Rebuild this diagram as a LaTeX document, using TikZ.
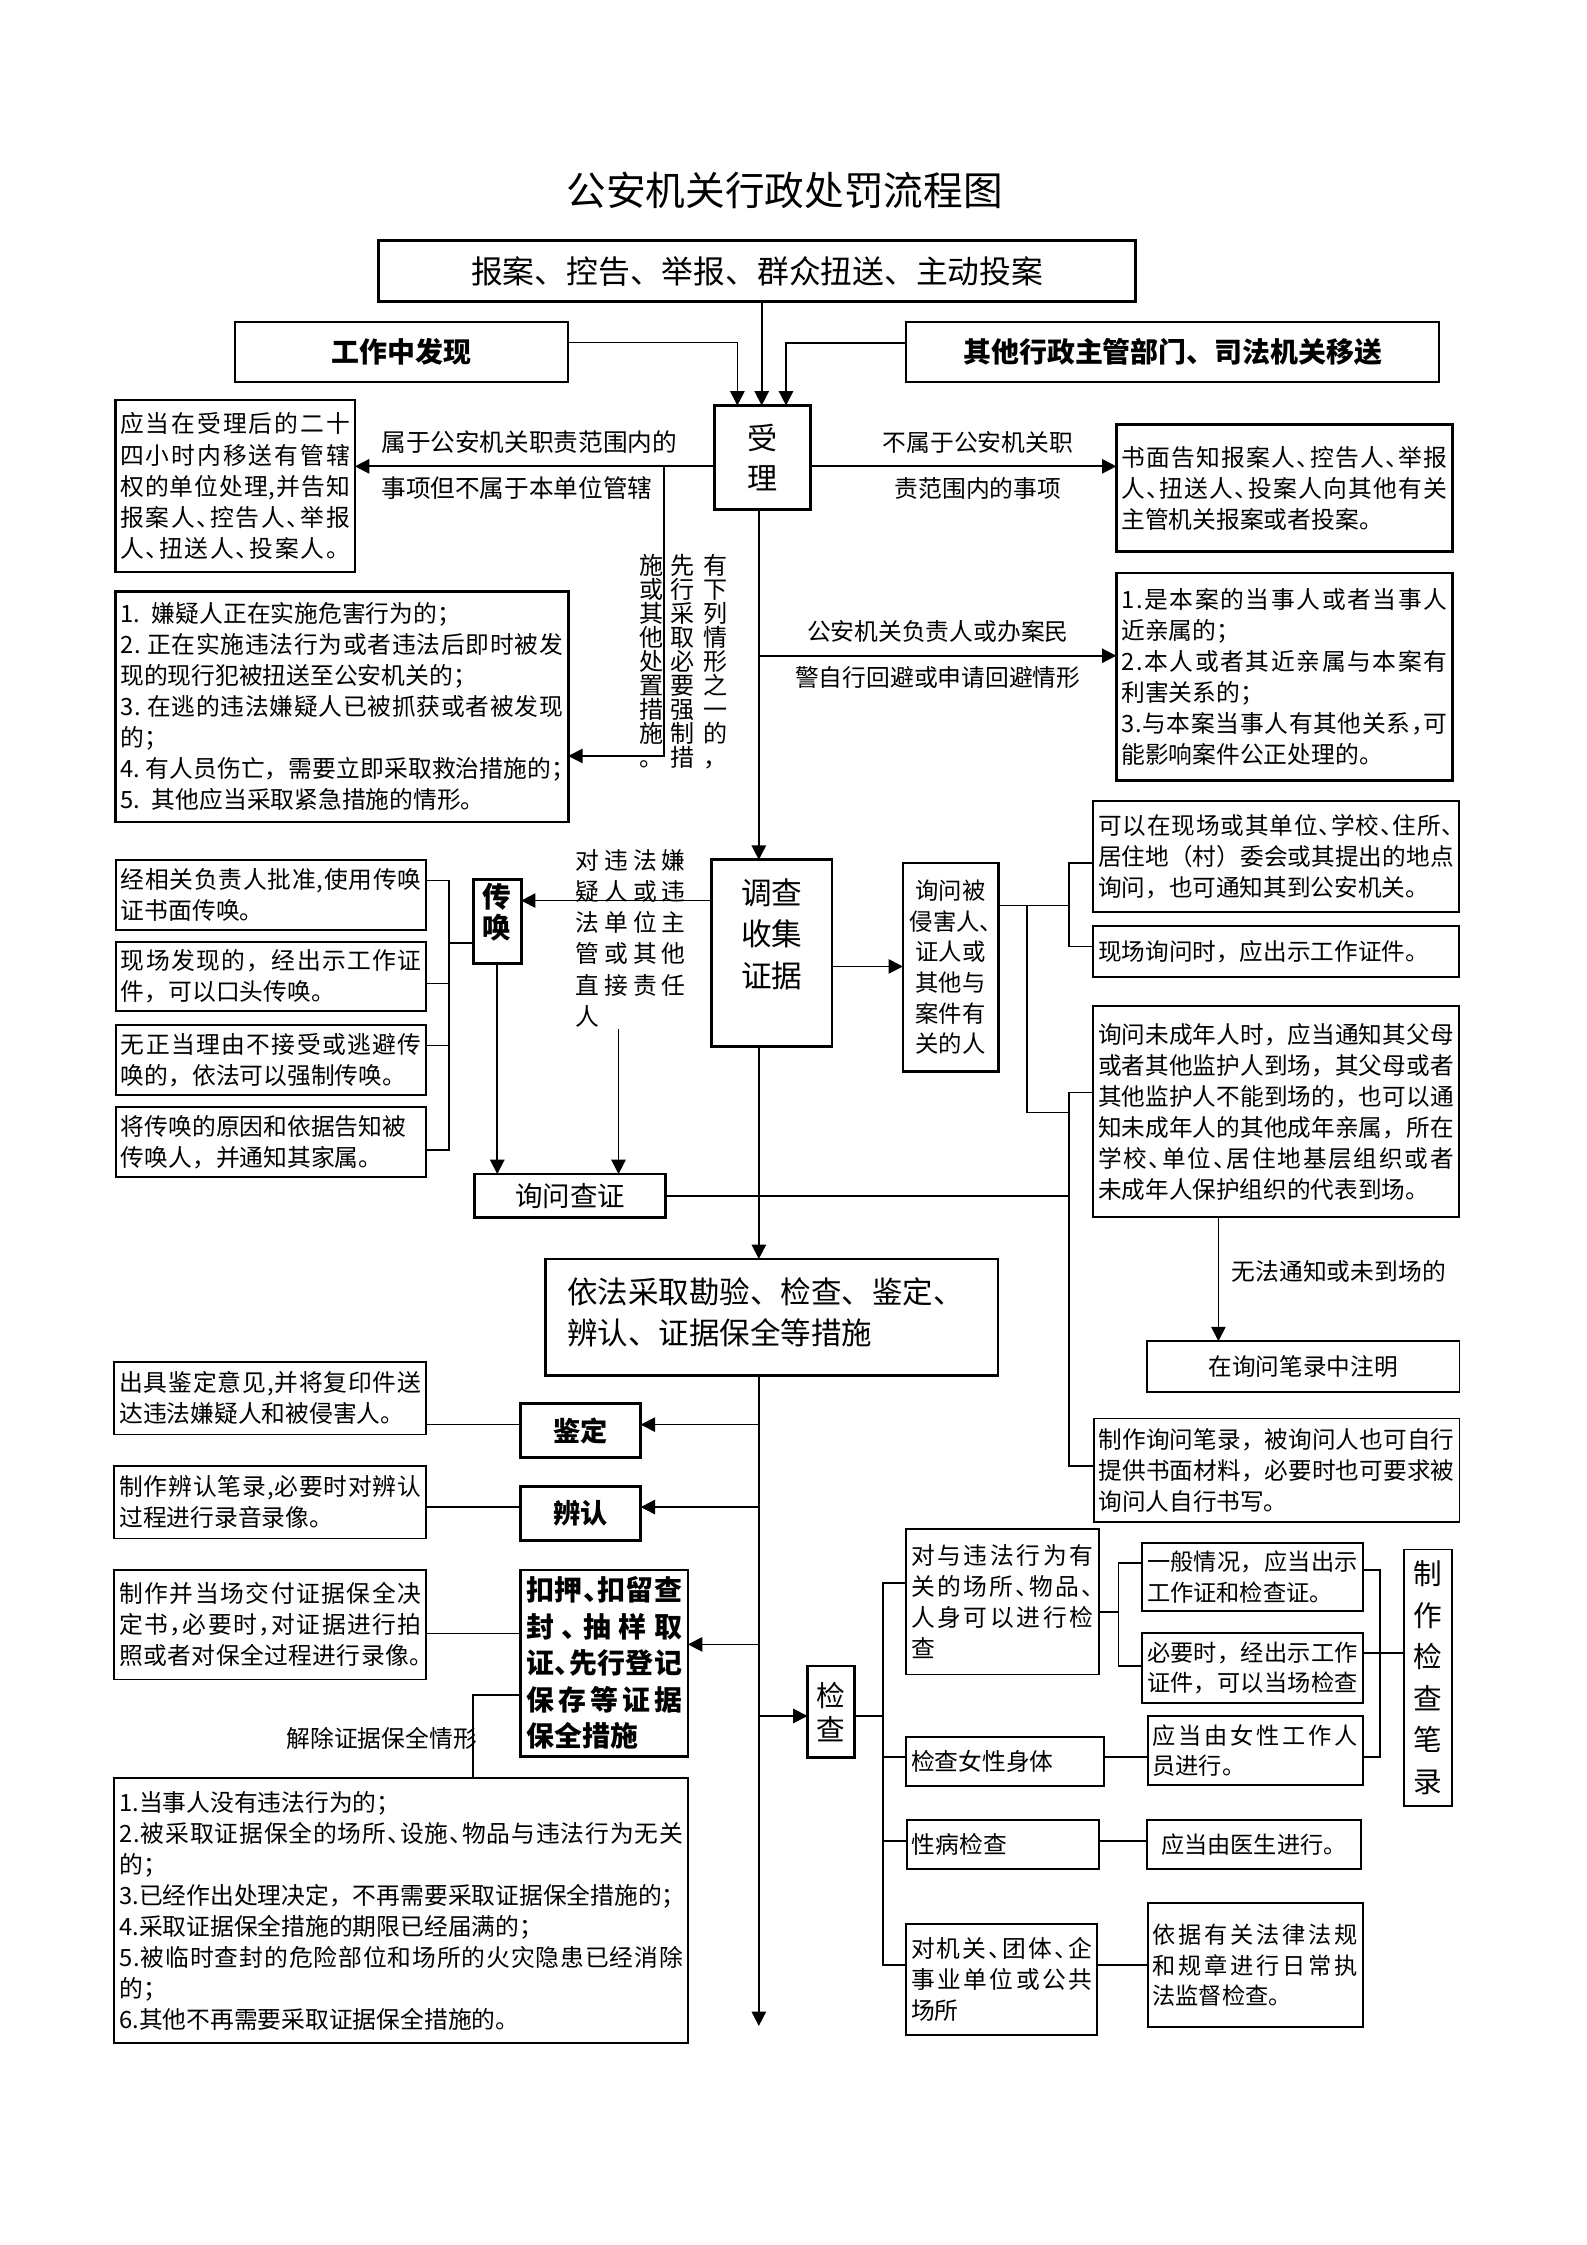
\documentclass[tikz,border=0pt]{standalone}
\usepackage{fontspec}
\setmainfont{Noto Sans CJK SC}
\usetikzlibrary{arrows.meta}
\newcommand\dun{\makebox[0.5em][l]{、}}
\newcommand\hwc{\makebox[0.5em][l]{，}}
\newcommand\hws{\makebox[0.5em][l]{；}}
\newcommand\hwp{\makebox[0.5em][l]{。}}
\newcommand\jsp{\makebox[0.22em]{}}
\def\jlend{JLEND}
\def\jlgobble#1{}
\def\jlloop#1#2{#1\ifx#2\jlend\expandafter\jlgobble\else\hskip0pt plus1fil\relax\expandafter\jlloop\fi#2}
\newcommand\jl[1]{\leavevmode\hbox to\hsize{\jlloop#1\jlend}}
\newcommand\fbody{\fontsize{8.3pt}{10.85pt}\selectfont}
\newcommand\fbodyl{\fontsize{8.25pt}{10.85pt}\selectfont}
\newcommand\fsmall{\fontsize{8.1pt}{10.6pt}\selectfont}
\tikzset{
  bx/.style={draw, line width=0.65pt, inner sep=0pt, outer sep=0pt},
  bxk/.style={draw, line width=0.95pt, inner sep=0pt, outer sep=0pt},
  sz/.style 2 args={minimum width=#1*0.5pt, minimum height=#2*0.5pt},
  tb/.style={align=left, font=\fbody},
  ln/.style={line width=0.6pt},
  arr/.style={line width=0.6pt, -{Triangle[length=5pt,width=5pt]}},
  lbl/.style={inner sep=0pt, font=\fbody},
  vcol/.style={inner sep=0pt, align=center, anchor=north, font={\fontsize{8.4pt}{8.375pt}\selectfont\lineskiplimit=-100pt}},
}
\begin{document}
\begin{tikzpicture}[x=0.5pt,y=-0.5pt]
\fill[white] (0,0) rectangle (1108,1568);
\useasboundingbox (0,0) rectangle (1108,1568);

% title
\node[inner sep=0pt, font={\fontsize{13.85pt}{16pt}\selectfont}] (title) at (548,133) {公安机关行政处罚流程图};

% top boxes
\node[bxk, sz={528.6}{42.6}, font={\fontsize{11.1pt}{14pt}\selectfont}] (A) at (528.9,189.3) {报案、控告、举报、群众扭送、主动投案};
\node[bx, sz={232.7}{42.3}, font={\fontsize{9.75pt}{12pt}\selectfont\bfseries}] (B) at (280.55,245.75) {工作中发现};
\node[bx, sz={372.2}{42.3}, font={\fontsize{9.75pt}{12pt}\selectfont\bfseries}] (C) at (819.1,245.75) {其他行政主管部门、司法机关移送};
\node[bxk, sz={67}{72.8}, align=center, font={\fontsize{10.5pt}{14pt}\selectfont}] (SL) at (532.5,319.6) {受\\理};

\node[bxk, sz={167.4}{120.3}, tb, text width=80.2pt] (D) at (164.2,339.45) {%
\jl{应当在受理后的二十}\\
\jl{四小时内移送有管辖}\\
\jl{权的单位处理,并告知}\\
\jl{报案人\dun 控告人\dun 举报}\\
\jl{人\dun 扭送人\dun 投案人。}};

\node[bxk, sz={234.8}{88.5}, tb, text width=113.9pt] (E) at (897.1,340.95) {%
\jl{书面告知报案人\dun 控告人\dun 举报}\\
\jl{人\dun 扭送人\dun 投案人向其他有关}\\
主管机关报案或者投案。};

\node[lbl, anchor=west, font={\fontsize{8.6pt}{10pt}\selectfont}] (la1) at (266,309) {属于公安机关职责范围内的};
\node[lbl, anchor=west, font={\fontsize{8.6pt}{10pt}\selectfont}] (la2) at (266,341) {事项但不属于本单位管辖};
\node[lbl] (lb1) at (683,309) {不属于公安机关职};
\node[lbl] (lb2) at (683,341) {责范围内的事项};

\node[vcol] (v1) at (500,387) {有\\下\\列\\情\\形\\之\\一\\的\\，};
\node[vcol] (v2) at (477,387) {先\\行\\采\\取\\必\\要\\强\\制\\措};
\node[vcol] (v3) at (455,387) {施\\或\\其\\他\\处\\置\\措\\施\\。};

\node[bxk, sz={316.4}{161}, tb, text width=154.7pt] (F) at (238.7,493.6) {%
1. 嫌疑人正在实施危害行为的；\\
\jl{2.\jsp 正在实施违法行为或者违法后即时被发}\\
现的现行犯被扭送至公安机关的；\\
\jl{3.\jsp 在逃的违法嫌疑人已被抓获或者被发现}\\
的；\\
\jl{4.\jsp 有人员伤亡，需要立即采取救治措施的\hws}\\
5. 其他应当采取紧急措施的情形。};

\node[lbl] (lc1) at (655,441) {公安机关负责人或办案民};
\node[lbl] (lc2) at (655,473) {警自行回避或申请回避情形};

\node[bxk, sz={234.8}{144.7}, tb, text width=113.9pt] (G) at (897.1,472.65) {%
\jl{1.是本案的当事人或者当事人}\\
近亲属的；\\
\jl{2.本人或者其近亲属与本案有}\\
利害关系的；\\
\jl{3.与本案当事人有其他关系\hwc 可}\\
能影响案件公正处理的。};

% investigation
\node[bxk, sz={84}{130.3}] (DC) at (539,665.65) {};
\node[inner sep=0pt, align=center, font={\fontsize{10.7pt}{14.5pt}\selectfont}] (DCt) at (539,652.3) {调查\\收集\\证据};

\node[bxk, sz={33.4}{58.5}] (CH) at (347.3,643.75) {};
\node[inner sep=0pt, align=center, font={\fontsize{10pt}{10.7pt}\selectfont\bfseries}] (CHt) at (347.3,637) {传\\唤};

\node[inner sep=0pt, tb, text width=38.5pt] (lbd) at (440.4,655.4) {%
\jl{对违法嫌}\\
\jl{疑人或违}\\
\jl{法单位主}\\
\jl{管或其他}\\
\jl{直接责任}\\
人};

\node[bx, sz={216.8}{48.8}, tb, text width=104.9pt] (H1) at (189.4,624.9) {%
\jl{经相关负责人批准,使用传唤}\\
证书面传唤。};
\node[bx, sz={216.8}{48}, tb, text width=104.9pt] (H2) at (189.4,682) {%
\jl{现场发现的，经出示工作证}\\
件，可以口头传唤。};
\node[bx, sz={216.8}{48.5}, tb, text width=104.9pt] (H3) at (189.4,740.25) {%
\jl{无正当理由不接受或逃避传}\\
唤的，依法可以强制传唤。};
\node[bx, sz={216.8}{48.4}, tb, text width=104.9pt] (H4) at (189.4,797.6) {%
将传唤的原因和依据告知被\\
传唤人，并通知其家属。};

\node[bxk, sz={133.4}{30.5}, font={\fontsize{9.6pt}{12pt}\selectfont}] (XW) at (398.3,835.25) {询问查证};

\node[bxk, sz={66.7}{145.4}, align=center, font={\fontsize{8.15pt}{10.7pt}\selectfont}] (K) at (663.95,675.5) {询问被\\侵害人\dun\\证人或\\其他与\\案件有\\关的人};

\node[bx, sz={255.3}{77.5}, tb, font=\fbodyl, text width=124.15pt] (L1) at (891.15,598.45) {%
\jl{可以在现场或其单位\dun 学校\dun 住所\dun}\\
\jl{居住地（村）委会或其提出的地点}\\
询问，也可通知其到公安机关。};
\node[bx, sz={255.3}{36.1}, tb, font=\fbodyl, text width=124.15pt] (L2) at (891.15,664.55) {现场询问时，应出示工作证件。};
\node[bx, sz={255.3}{147.4}, tb, font=\fbodyl, text width=124.15pt] (L3) at (891.15,776.5) {%
\jl{询问未成年人时，应当通知其父母}\\
\jl{或者其他监护人到场，其父母或者}\\
\jl{其他监护人不能到场的，也可以通}\\
\jl{知未成年人的其他成年亲属，所在}\\
\jl{学校\dun 单位\dun 居住地基层组织或者}\\
未成年人保护组织的代表到场。};

\node[lbl, anchor=west] (lm) at (860,888) {无法通知或未到场的};
\node[bx, sz={218.5}{35.3}, font=\fbodyl] (M) at (910.15,954.35) {在询问笔录中注明};
\node[bx, sz={255.6}{72.1}, tb, font=\fbodyl, text width=124.3pt] (N) at (891.6,1026.75) {%
\jl{制作询问笔录，被询问人也可自行}\\
\jl{提供书面材料，必要时也可要求被}\\
询问人自行书写。};

% evidence measures
\node[bxk, sz={316.2}{81.2}] (J) at (538.9,919.9) {};
\node[inner sep=0pt, anchor=west, align=left, font={\fontsize{10.65pt}{14.5pt}\selectfont}] (Jt) at (395.7,916.5) {依法采取勘验、检查、鉴定、\\辨认、证据保全等措施};

\node[bxk, sz={83.8}{37.7}, font={\fontsize{9.5pt}{12pt}\selectfont\bfseries}] (JD) at (405.6,999.15) {鉴定};
\node[bxk, sz={83.8}{37.7}, font={\fontsize{9.5pt}{12pt}\selectfont\bfseries}] (BR) at (405.6,1056.85) {辨认};

\node[bx, sz={218}{50.7}, tb, text width=105.5pt] (P1) at (188.8,976.55) {%
\jl{出具鉴定意见,并将复印件送}\\
达违法嫌疑人和被侵害人。};
\node[bx, sz={218}{50.5}, tb, text width=105.5pt] (P2) at (188.8,1049.25) {%
\jl{制作辨认笔录,必要时对辨认}\\
过程进行录音录像。};
\node[bx, sz={218}{76.4}, tb, text width=105.5pt] (P3) at (188.8,1134.8) {%
\jl{制作并当场交付证据保全决}\\
\jl{定书\hwc 必要时\hwc 对证据进行拍}\\
\jl{照或者对保全过程进行录像\hwp}};

\node[bxk, sz={116.8}{130.1}, align=left, text width=54.3pt, font={\fontsize{9.75pt}{12.75pt}\selectfont\bfseries}] (Q) at (422.1,1161.65) {%
\jl{扣押\dun 扣留查}\\
\jl{封\dun 抽样取}\\
\jl{证\dun 先行登记}\\
\jl{保存等证据}\\
保全措施};

\node[lbl, anchor=east] (lr) at (333.4,1214) {解除证据保全情形};

\node[bx, sz={400.8}{185}, tb, text width=196.9pt] (R) at (280.2,1334.5) {%
1.当事人没有违法行为的；\\
\jl{2.被采取证据保全的场所\dun 设施\dun 物品与违法行为无关}\\
的；\\
3.已经作出处理决定，不再需要采取证据保全措施的\hws\\
4.采取证据保全措施的期限已经届满的；\\
\jl{5.被临时查封的危险部位和场所的火灾隐患已经消除}\\
的；\\
6.其他不再需要采取证据保全措施的。};

% inspection
\node[bxk, sz={33}{63.9}, align=center, font={\fontsize{10pt}{12pt}\selectfont}] (S) at (580.5,1195.55) {检\\查};

\node[bx, sz={134.5}{101.8}, tb, text width=63.75pt] (T1) at (700.05,1118.6) {%
\jl{对与违法行为有}\\
\jl{关的场所\dun 物品\dun}\\
\jl{人身可以进行检}\\
查};
\node[bx, sz={138}{34.2}, tb, text width=65.5pt] (T3) at (701.8,1230.3) {检查女性身体};
\node[bx, sz={133.9}{34.6}, tb, text width=63.45pt] (T4) at (700.35,1288.3) {性病检查};
\node[bx, sz={133.6}{77.8}, tb, text width=63.3pt] (T5) at (699.6,1382.4) {%
\jl{对机关\dun 团体\dun 企}\\
\jl{事业单位或公共}\\
场所};

\node[bx, sz={154.1}{47.8}, tb, font=\fsmall, text width=73.55pt] (U1) at (874.75,1101.4) {%
\jl{一般情况，应当出示}\\
工作证和检查证。};
\node[bx, sz={154.1}{49.4}, tb, font=\fsmall, text width=73.55pt] (U2) at (874.75,1165) {%
\jl{必要时，经出示工作}\\
\jl{证件，可以当场检查}};
\node[bx, sz={150.3}{48.2}, tb, font=\fsmall, text width=71.65pt] (U3) at (876.65,1222.6) {%
\jl{应当由女性工作人}\\
员进行。};
\node[bx, sz={149.7}{34.6}, font=\fsmall] (U4) at (875.75,1288.3) {应当由医生进行。};
\node[bx, sz={150.3}{86.7}, tb, font=\fsmall, text width=71.65pt] (U5) at (876.65,1372.65) {%
\jl{依据有关法律法规}\\
\jl{和规章进行日常执}\\
法监督检查。};

\node[bx, sz={33.4}{179.2}, align=center, font={\fontsize{10pt}{14.5pt}\selectfont}] (V) at (997.5,1171.8) {制\\作\\检\\查\\笔\\录};

% junction coordinates
\coordinate (jF) at (464,325.7);
\coordinate (jG) at (530,458);
\coordinate (hbT) at (313.8,614.9);
\coordinate (hbB) at (313.8,803);
\coordinate (lblEnd) at (432,719);
\coordinate (kb) at (746.8,632.5);
\coordinate (kj) at (717.4,632.5);
\coordinate (v2T) at (746.8,763);
\coordinate (v2B) at (746.8,1024);
\coordinate (mainEnd) at (530,1415);
\coordinate (jJD) at (530,995);
\coordinate (jBR) at (530,1052.6);
\coordinate (jQ) at (530,1148.5);
\coordinate (jS) at (530,1198.5);
\coordinate (rq) at (330.6,1184);
\coordinate (tbT) at (616.5,1105.5);
\coordinate (tbB) at (616.5,1372.4);
\coordinate (ub) at (781.2,1126);
\coordinate (rb) at (963.7,1096.6);

% connectors (top)
\draw[arr] (A.south -| 532,0) -- (SL.north -| 532,0);
\draw[arr] (B.east |- 0,239.2) -| (SL.north -| 515,0);
\draw[arr] (C.west |- 0,239.4) -| (SL.north -| 549,0);
\draw[arr] (SL.west |- jF) -- (D.east |- jF);
\draw[arr] (SL.east |- jF) -- (E.west |- jF);
\draw[arr] (jF) |- (F.east |- 0,528);
\draw[arr] (SL.south -| jG) -- (DC.north -| jG);
\draw[arr] (jG) -- (G.west |- jG);

% summons
\draw[arr] (DC.west |- 0,629) -- (CH.east |- 0,629);
\draw[ln] (H1.east |- hbT) -- (hbT) -- (hbB) -- (H4.east |- hbB);
\draw[ln] (H2.east |- 0,687) -- (hbT |- 0,687);
\draw[ln] (H3.east |- 0,730.3) -- (hbT |- 0,730.3);
\draw[ln] (CH.west |- 0,658.5) -- (hbT |- 0,658.5);
\draw[arr] (CH.south) -- (CH.south |- XW.north);
\draw[arr] (lblEnd) -- (lblEnd |- XW.north);
\draw[ln] (XW.east) -- (XW.east -| v2T);

% inquiry
\draw[arr] (DC.south -| jG) -- (J.north -| jG);
\draw[arr] (DC.east |- 0,675) -- (K.west |- 0,675);
\draw[ln] (K.east |- kb) -- (kb);
\draw[ln] (L1.west |- 0,602.8) -- (kb |- 0,602.8) -- (kb |- 0,661) -- (L2.west |- 0,661);
\draw[ln] (kj) |- (v2T |- 0,777);
\draw[ln] (L3.west |- v2T) -- (v2T) -- (v2B) -- (N.west |- v2B);
\draw[arr] (L3.south -| 851,0) -- (M.north -| 851,0);

% lower part
\draw[arr] (J.south -| mainEnd) -- (mainEnd);
\draw[arr] (jJD) -- (JD.east |- jJD);
\draw[arr] (jBR) -- (BR.east |- jBR);
\draw[arr] (jQ) -- (Q.east |- jQ);
\draw[arr] (jS) -- (S.west |- jS);
\draw[ln] (P1.east |- jJD) -- (JD.west |- jJD);
\draw[ln] (P2.east |- jBR) -- (BR.west |- jBR);
\draw[ln] (P3.east |- 0,1140.8) -- (Q.west |- 0,1140.8);
\draw[ln] (Q.west |- rq) -- (rq) -- (rq |- R.north);

% inspection tree
\draw[ln] (S.east |- jS) -- (tbT |- jS);
\draw[ln] (T1.west |- tbT) -- (tbT) -- (tbB) -- (T5.west |- tbB);
\draw[ln] (tbT |- 0,1227) -- (T3.west |- 0,1227);
\draw[ln] (tbT |- 0,1285.8) -- (T4.west |- 0,1285.8);
\draw[ln] (T1.east |- ub) -- (ub);
\draw[ln] (U1.west |- 0,1091.5) -- (ub |- 0,1091.5) -- (ub |- 0,1163.6) -- (U2.west |- 0,1163.6);
\draw[ln] (T3.east |- 0,1227) -- (U3.west |- 0,1227);
\draw[ln] (T4.east |- 0,1286) -- (U4.west |- 0,1286);
\draw[ln] (T5.east |- tbB) -- (U5.west |- tbB);
\draw[ln] (U1.east |- rb) -- (rb) -- (rb |- 0,1227.2) -- (U3.east |- 0,1227.2);
\draw[ln] (U2.east |- 0,1154.3) -- (V.west |- 0,1154.3);
\end{tikzpicture}
\end{document}
